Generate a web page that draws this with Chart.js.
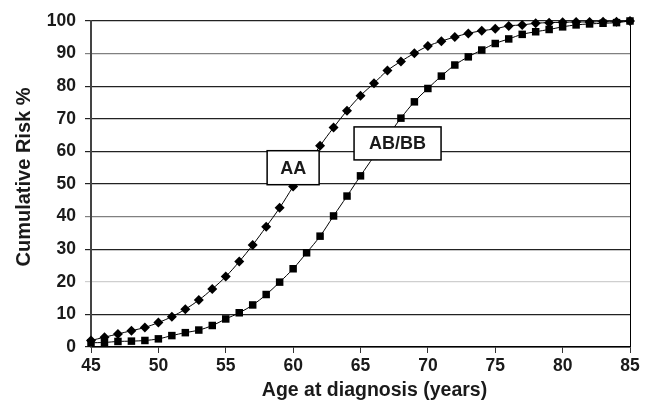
<!DOCTYPE html>
<html>
<head>
<meta charset="utf-8">
<script src="https://cdn.jsdelivr.net/npm/chart.js@4.4.1/dist/chart.umd.min.js"></script>
<style>
  html, body { margin: 0; padding: 0; background: #fff; }
  #wrap { width: 650px; height: 406px; }
</style>
</head>
<body>
<div id="wrap"><canvas id="risk"></canvas></div>
<script>
// Age at diagnosis (years)
const ages = [45, 46, 47, 48, 49, 50, 51, 52, 53, 54, 55, 56, 57, 58, 59, 60, 61, 62, 63, 64,
    65, 66, 67, 68, 69, 70, 71, 72, 73, 74, 75, 76, 77, 78, 79, 80, 81, 82, 83, 84, 85];

// Cumulative risk %
const riskAA = [2, 3, 4, 5, 6, 7.5, 9.3, 11.6, 14.4, 17.8, 21.6, 26.2, 31.3, 36.9, 42.7, 49.2,
    55.5, 61.7, 67.3, 72.5, 77.1, 80.9, 84.8, 87.6, 90.1, 92.3, 93.8, 95.1, 96.2, 97.0, 97.6,
    98.5, 98.8, 99.3, 99.5, 99.6, 99.7, 99.7, 99.8, 99.8, 100];
const riskABBB = [1.3, 1.4, 1.7, 1.8, 2.0, 2.5, 3.5, 4.4, 5.2, 6.6, 8.6, 10.5, 12.9, 16.1, 19.9,
    24.0, 28.9, 34.0, 40.2, 46.3, 52.5, 58.5, 64.5, 70.2, 75.2, 79.3, 83.1, 86.5, 89.0, 91.1,
    93.1, 94.5, 95.9, 96.7, 97.4, 98.2, 98.8, 99.1, 99.3, 99.5, 100];

// Labels in boxes, anchored in data units
const boxLabels = ['AA', 'AB/BB'];
const boxAnchors = [[60, 55], [67.75, 62.45]];

const FONT = '"Liberation Sans", Arial, Helvetica, sans-serif';

const toPoints = (ys) => ages.map((a, i) => ({ x: a, y: ys[i] }));

// Right frame line, axis titles and the label boxes
const extrasPlugin = {
    id: 'extras',
    afterDatasetsDraw(chart) {
        const { ctx, chartArea, scales } = chart;
        ctx.save();
        ctx.strokeStyle = '#000';
        ctx.lineWidth = 1;
        ctx.beginPath();
        ctx.moveTo(chartArea.right + 0.5, chartArea.top);
        ctx.lineTo(chartArea.right + 0.5, chartArea.bottom);
        ctx.stroke();

        const sizes = [[52, 34], [87, 33]];
        ctx.font = 'bold 18px ' + FONT;
        ctx.textAlign = 'center';
        ctx.textBaseline = 'middle';
        boxLabels.forEach((txt, i) => {
            const cx = scales.x.getPixelForValue(boxAnchors[i][0]);
            const cy = scales.y.getPixelForValue(boxAnchors[i][1]);
            const [w, h] = sizes[i];
            ctx.fillStyle = '#fff';
            ctx.fillRect(cx - w / 2, cy - h / 2, w, h);
            ctx.lineWidth = 1.5;
            ctx.strokeStyle = '#000';
            ctx.strokeRect(cx - w / 2, cy - h / 2, w, h);
            ctx.fillStyle = '#1a1a1a';
            ctx.fillText(txt, cx, cy + 1);
        });

        // axis titles (the original sits a bit off-centre)
        ctx.font = 'bold 19.5px ' + FONT;
        ctx.fillStyle = '#1a1a1a';
        ctx.fillText('Age at diagnosis (years)', (chartArea.left + chartArea.right) / 2 + 14, 391);

        ctx.font = 'bold 20px ' + FONT;
        ctx.translate(24, 177);
        ctx.rotate(-Math.PI / 2);
        ctx.fillText('Cumulative Risk %', 0, 0);
        ctx.restore();
    }
};

const gridColor = (c) => {
    const v = c.tick && c.tick.value;
    if (v === 90 || v === 40) return '#808080';
    if (v === 20) return '#cfcfcf';
    return '#222';
};

new Chart(document.getElementById('risk'), {
    type: 'line',
    data: {
        datasets: [{
            label: 'AA',
            data: toPoints(riskAA),
            borderColor: '#000',
            backgroundColor: '#000',
            borderWidth: 1,
            pointStyle: 'rectRot',
            pointRadius: 5,
            pointBorderWidth: 0,
            tension: 0.4,
            clip: false
        }, {
            label: 'AB/BB',
            data: toPoints(riskABBB),
            borderColor: '#000',
            backgroundColor: '#000',
            borderWidth: 1,
            pointStyle: 'rect',
            pointRadius: 5.3,
            pointBorderWidth: 0,
            tension: 0.4,
            clip: false
        }]
    },
    options: {
        responsive: true,
        maintainAspectRatio: false,
        animation: false,
        layout: { padding: { top: 21, right: 20, left: 0, bottom: 0 } },
        plugins: {
            legend: { display: false },
            tooltip: { enabled: false }
        },
        scales: {
            x: {
                type: 'linear',
                min: 45,
                max: 85,
                afterFit: (s) => { s.height = 59; },
                ticks: {
                    stepSize: 5,
                    padding: 3,
                    color: '#1a1a1a',
                    font: { family: FONT, size: 17.5, weight: 'bold' }
                },
                grid: {
                    drawOnChartArea: false,
                    drawTicks: true,
                    tickLength: 6,
                    color: '#333'
                },
                border: { display: true, color: '#000', width: 1.5 },
                title: { display: false }
            },
            y: {
                min: 0,
                max: 100,
                afterFit: (s) => { s.width = 91; },
                ticks: {
                    stepSize: 10,
                    padding: 9,
                    color: '#1a1a1a',
                    font: { family: FONT, size: 17.5, weight: 'bold' }
                },
                grid: {
                    color: gridColor,
                    lineWidth: 1.2,
                    tickLength: 6
                },
                border: { display: true, color: '#444', width: 2 },
                title: { display: false }
            }
        }
    },
    plugins: [extrasPlugin]
});
</script>
</body>
</html>
